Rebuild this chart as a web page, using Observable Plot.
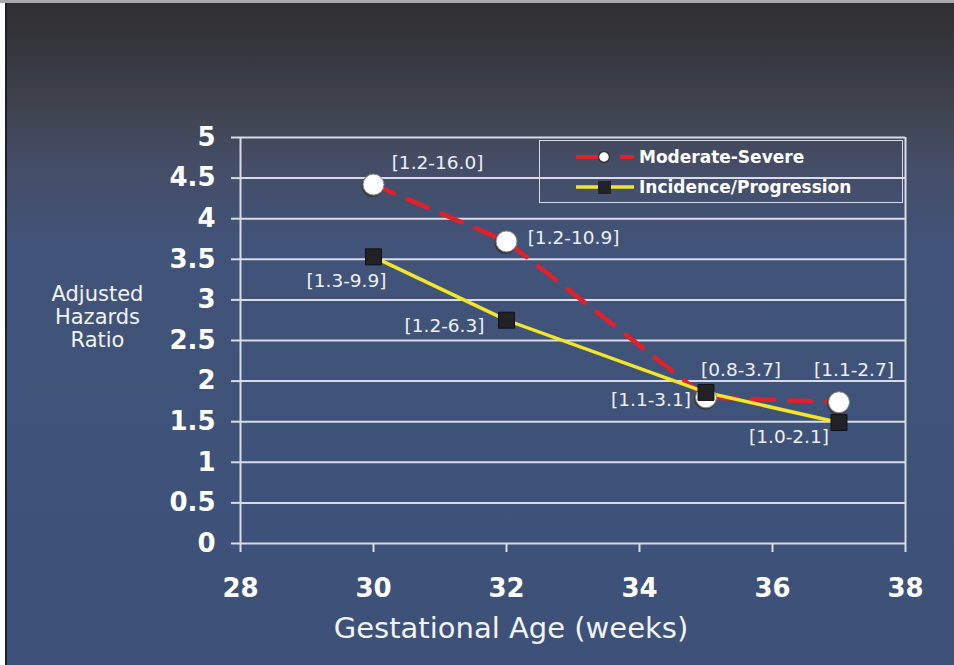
<!DOCTYPE html>
<html>
<head>
<meta charset="utf-8">
<script src="https://cdn.jsdelivr.net/npm/d3@7"></script>
<script src="https://cdn.jsdelivr.net/npm/@observablehq/plot@0.6"></script>
<style>
  html, body { margin: 0; padding: 0; background: #fff; }
  #wrap { position: relative; width: 954px; height: 665px; overflow: hidden; font-family: "DejaVu Sans", sans-serif; }
  #topline { position: absolute; left: 0; top: 0; width: 954px; height: 3px; background: #a9a9ad; }
  #bg { position: absolute; left: 5px; top: 3px; right: 0; bottom: 0; border-left: 2px solid #1e1f24;
        background: linear-gradient(to bottom, #302f33 0%, #37383f 8%, #40444f 16%, #454d66 24%, #415378 36%, #3d5179 100%); }
  #chart { position: absolute; left: 0; top: 0; }
  #legend { position: absolute; left: 539px; top: 140px; width: 364px; height: 63px; box-sizing: border-box;
            border: 1.5px solid #d9dce6; color: #fff; font-weight: bold; font-size: 17px; }
  .row { position: absolute; left: 0; height: 30px; width: 100%; }
  .row svg { position: absolute; left: 34px; top: 0; }
  .row span { position: absolute; left: 99px; top: 5px; white-space: nowrap; }
</style>
</head>
<body>
<div id="wrap">
  <div id="topline"></div>
  <div id="bg"></div>
  <div id="chart"></div>
  <div id="legend"></div>
</div>
<script>
// ---- data ----
const weeks = [30, 32, 35, 37];
const moderateSevere = [4.42, 3.72, 1.80, 1.74];
const incidenceProgression = [3.53, 2.75, 1.86, 1.49];
const moderateCI = ["[1.2-16.0]", "[1.2-10.9]", "[0.8-3.7]", "[1.1-2.7]"];
const incidenceCI = ["[1.3-9.9]", "[1.2-6.3]", "[1.1-3.1]", "[1.0-2.1]"];
const seriesNames = ["Moderate-Severe", "Incidence/Progression"];
const xTicks = [28, 30, 32, 34, 36, 38];
const yTicks = [0, 0.5, 1, 1.5, 2, 2.5, 3, 3.5, 4, 4.5, 5];
const xLabel = "Gestational Age (weeks)";
const yLabel = ["Adjusted", "Hazards", "Ratio"];

// ---- layout constants (label offsets in px) ----
const modOff = [[64, -22], [67, -3], [35, -27], [15, -32]];
const incOff = [[-27, 24], [-62, 6], [-55, 8], [-50, 15]];

const RED = "#e3202a", YELLOW = "#f2e62a", WHITE = "#ffffff", GRID = "#d9dce6";
const FONT = "'DejaVu Sans', sans-serif";
const idx = weeks.map((_, i) => i);

const ciMarks = [];
idx.forEach(i => {
  ciMarks.push(Plot.text([i], {x: j => weeks[j], y: j => moderateSevere[j], text: j => moderateCI[j],
    dx: modOff[i][0], dy: modOff[i][1], fill: "#eef0f5", fontSize: 18.5}));
  ciMarks.push(Plot.text([i], {x: j => weeks[j], y: j => incidenceProgression[j], text: j => incidenceCI[j],
    dx: incOff[i][0], dy: incOff[i][1], fill: "#eef0f5", fontSize: 18.5}));
});

const chart = Plot.plot({
  width: 954,
  height: 665,
  marginLeft: 240,
  marginRight: 49,
  marginTop: 137,
  marginBottom: 122,
  style: {background: "transparent", color: WHITE, fontFamily: FONT},
  x: {domain: [28, 38], ticks: xTicks},
  y: {domain: [0, 5], ticks: yTicks},
  marks: [
    Plot.gridY(yTicks, {stroke: GRID, strokeOpacity: 1, strokeWidth: 2}),
    Plot.ruleX([28, 38], {y1: 0, y2: 5, stroke: GRID, strokeWidth: 2}),
    Plot.axisY(yTicks, {tickSize: 9, tickPadding: 16, fontSize: 26, fontWeight: "bold", tickFormat: d => String(d),
      stroke: GRID, strokeWidth: 2, label: null}),
    Plot.axisX(xTicks, {tickSize: 9, tickPadding: 26, fontSize: 26, fontWeight: "bold", tickFormat: d => String(d),
      stroke: GRID, strokeWidth: 2, label: null}),
    Plot.line(idx, {x: i => weeks[i], y: i => moderateSevere[i], stroke: RED, strokeWidth: 4.5, strokeDasharray: "22,15"}),
    Plot.line(idx, {x: i => weeks[i], y: i => incidenceProgression[i], stroke: YELLOW, strokeWidth: 3.5}),
    Plot.dot(idx, {x: i => weeks[i], y: i => moderateSevere[i], r: 11, fill: "#3a3a3a", dx: -1, dy: 1.5, stroke: "none"}),
    Plot.dot(idx, {x: i => weeks[i], y: i => moderateSevere[i], r: 10.5, fill: WHITE, stroke: "#888", strokeWidth: 1}),
    Plot.dot(idx, {x: i => weeks[i], y: i => incidenceProgression[i], symbol: "square", r: 9, fill: "#222226", stroke: "#111", strokeWidth: 1}),
    ...ciMarks,
    Plot.text([xLabel], {frameAnchor: "bottom", dx: -62, dy: 85, textAnchor: "middle", lineAnchor: "middle",
      fontSize: 29, fill: "#f2f3f7"}),
    Plot.text([yLabel.join("\n")], {frameAnchor: "left", dx: -143, dy: -24, textAnchor: "middle", lineAnchor: "middle",
      lineHeight: 1.1, fontSize: 21, fill: "#f2f3f7"})
  ]
});
document.getElementById("chart").appendChild(chart);

// ---- legend ----
const legend = document.getElementById("legend");
const sw = [
  `<svg width="64" height="30"><line x1="2" y1="15" x2="24" y2="15" stroke="${RED}" stroke-width="4"/><line x1="46" y1="15" x2="60" y2="15" stroke="${RED}" stroke-width="4"/><circle cx="30" cy="15" r="5.5" fill="#fff" stroke="#333" stroke-width="1.5"/></svg>`,
  `<svg width="64" height="30"><line x1="2" y1="15" x2="60" y2="15" stroke="${YELLOW}" stroke-width="3.5"/><rect x="24" y="9" width="13" height="13" fill="#222226"/></svg>`
];
seriesNames.forEach((name, i) => {
  const row = document.createElement("div");
  row.className = "row";
  row.style.top = (i === 0 ? 1 : 31) + "px";
  row.innerHTML = sw[i] + `<span>${name}</span>`;
  legend.appendChild(row);
});
</script>
</body>
</html>
